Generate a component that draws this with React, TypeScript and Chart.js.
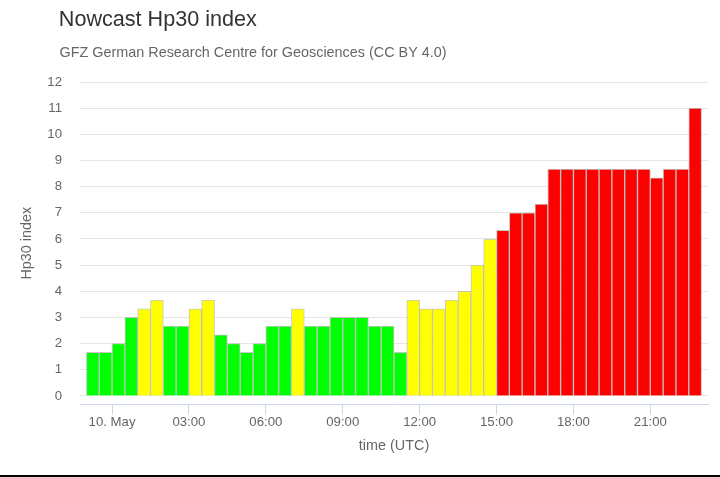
import React, { useEffect, useRef } from "react";
import { Chart, registerables } from "chart.js";

Chart.register(...registerables);

// Slot start time, hours relative to 10 May 00:00 UTC (30-minute Hp30 intervals)
const slotStartHours = [
  -1, -0.5, 0, 0.5, 1, 1.5, 2, 2.5, 3, 3.5, 4, 4.5, 5, 5.5, 6, 6.5,
  7, 7.5, 8, 8.5, 9, 9.5, 10, 10.5, 11, 11.5, 12, 12.5, 13, 13.5, 14, 14.5,
  15, 15.5, 16, 16.5, 17, 17.5, 18, 18.5, 19, 19.5, 20, 20.5, 21, 21.5, 22, 22.5,
];

const hp30Values = [
  1.667, 1.667, 2, 3, 3.333, 3.667, 2.667, 2.667, 3.333, 3.667, 2.333, 2,
  1.667, 2, 2.667, 2.667, 3.333, 2.667, 2.667, 3, 3, 3, 2.667, 2.667,
  1.667, 3.667, 3.333, 3.333, 3.667, 4, 5, 6, 6.333, 7, 7, 7.333,
  8.667, 8.667, 8.667, 8.667, 8.667, 8.667, 8.667, 8.667, 8.333, 8.667, 8.667, 11,
];

const xTickValues = [0, 3, 6, 9, 12, 15, 18, 21];
const xTickLabels = ["10. May", "03:00", "06:00", "09:00", "12:00", "15:00", "18:00", "21:00"];
const yTickValues = [0, 1, 2, 3, 4, 5, 6, 7, 8, 9, 10, 11, 12];

const titleText = "Nowcast Hp30 index";
const subtitleText = "GFZ German Research Centre for Geosciences (CC BY 4.0)";
const yAxisTitle = "Hp30 index";
const xAxisTitle = "time (UTC)";

const FONT = '"Liberation Sans", Arial, Helvetica, sans-serif';

function colorFor(v: number): string {
  if (v <= 3) return "#00ff00";
  if (v <= 6) return "#ffff00";
  return "#ff0000";
}

const headerPlugin = {
  id: "headerText",
  afterDraw(chart: any) {
    const ctx = chart.ctx;
    ctx.save();
    ctx.textAlign = "left";
    ctx.textBaseline = "alphabetic";
    ctx.fillStyle = "#333333";
    ctx.font = `21.6px ${FONT}`;
    ctx.fillText(titleText, 58.8, 26);
    ctx.fillStyle = "#666666";
    ctx.font = `14.4px ${FONT}`;
    ctx.fillText(subtitleText, 59.5, 56.7);
    ctx.restore();
  },
};

export default function App() {
  const canvasRef = useRef<HTMLCanvasElement | null>(null);

  useEffect(() => {
    if (!canvasRef.current) return;
    Chart.defaults.font.family = FONT;
    const data = slotStartHours.map((t, i) => ({ x: t + 0.25, y: hp30Values[i] }));
    const chart = new Chart(canvasRef.current, {
      type: "bar",
      data: {
        datasets: [
          {
            data: data as any,
            backgroundColor: hp30Values.map(colorFor),
            borderColor: "rgba(175,175,175,0.7)",
            borderWidth: 1,
            barPercentage: 1,
            categoryPercentage: 1,
          },
        ],
      },
      options: {
        animation: false,
        responsive: true,
        maintainAspectRatio: false,
        layout: { padding: { left: 0, right: 12, top: 82, bottom: 22.7 } },
        plugins: {
          legend: { display: false },
          tooltip: { enabled: false },
          title: { display: false },
        },
        scales: {
          x: {
            type: "linear",
            offset: false,
            min: -1.25,
            max: 23.25,
            afterFit(scale: any) {
              scale.height = 50;
            },
            afterBuildTicks(scale: any) {
              scale.ticks = xTickValues.map((v) => ({ value: v }));
            },
            ticks: {
              padding: 0,
              color: "#666666",
              font: { size: 13.2 },
              maxRotation: 0,
              autoSkip: false,
              callback: (v: any) => {
                const i = xTickValues.indexOf(Number(v));
                return i >= 0 ? xTickLabels[i] : "";
              },
            },
            grid: {
              offset: false,
              drawOnChartArea: false,
              drawTicks: true,
              tickLength: 10,
              color: "#ccd6eb",
              lineWidth: 1,
            },
            border: { display: true, color: "#ccd6eb", width: 1 },
            title: {
              display: true,
              text: xAxisTitle,
              color: "#666666",
              font: { size: 14.4 },
              padding: { top: 0, bottom: 0 },
            },
          },
          y: {
            type: "linear",
            min: -0.32,
            max: 12,
            afterFit(scale: any) {
              scale.width = 80;
            },
            afterBuildTicks(scale: any) {
              scale.ticks = yTickValues.map((v) => ({ value: v }));
            },
            ticks: {
              padding: 18,
              color: "#666666",
              font: { size: 13.2 },
              autoSkip: false,
            },
            grid: {
              drawTicks: false,
              color: "#e6e6e6",
              lineWidth: 1,
            },
            border: { display: false },
            title: {
              display: true,
              text: yAxisTitle,
              color: "#666666",
              font: { size: 14.4 },
              padding: { top: 18, bottom: 0 },
            },
          },
        },
      },
      plugins: [headerPlugin],
    });
    return () => chart.destroy();
  }, []);

  return (
    <div
      style={{
        position: "fixed",
        left: 0,
        top: 0,
        width: 720,
        height: 477,
        background: "#ffffff",
      }}
    >
      <canvas ref={canvasRef} />
      <div
        style={{
          position: "absolute",
          left: 0,
          top: 475,
          width: 720,
          height: 2,
          background: "#000000",
        }}
      />
    </div>
  );
}
